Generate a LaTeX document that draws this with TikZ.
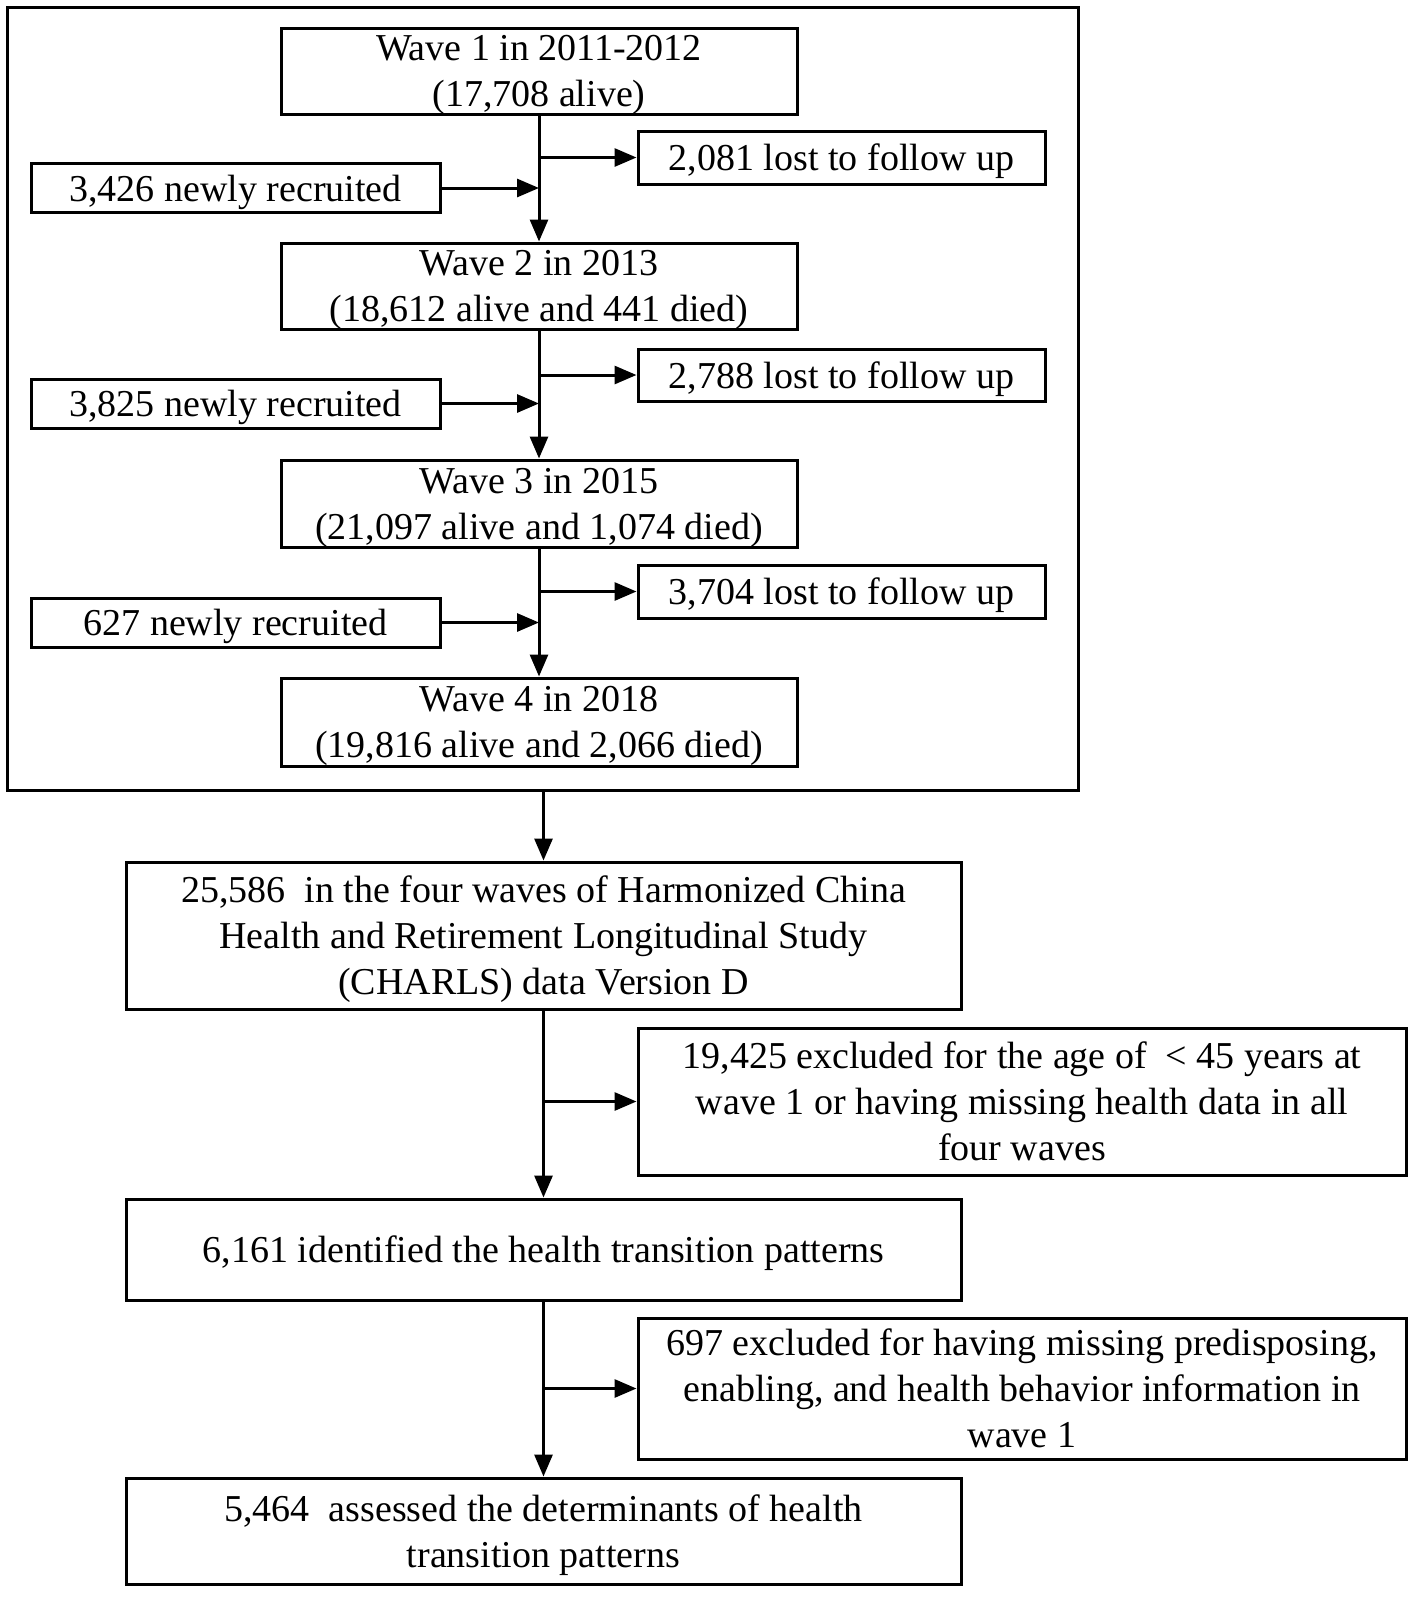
\documentclass[tikz,border=0pt]{standalone}
\usepackage{fontspec}
\setmainfont{Liberation Serif}
\usetikzlibrary{arrows.meta}
\begin{document}
\begin{tikzpicture}[x=0.5pt,y=-0.5pt,
    box/.style={draw,line width=1.5pt,align=center,inner sep=0pt,text depth=0pt,font=\fontsize{19}{23}\selectfont},
    arr/.style={line width=1.5pt,-{Triangle[length=11pt,width=9pt]}}]
      \useasboundingbox (0,0) rectangle (1418,1602);
      \draw
        (542.5,398.5) node[draw,line width=1.5pt,minimum width=535.5pt,minimum height=391.5pt] (frame){}
        (539,71) node[box,minimum width=258pt,minimum height=43pt] (w1){Wave 1 in 2011-2012\\(17,708 alive)}
        (539,286) node[box,minimum width=258pt,minimum height=43pt] (w2){Wave 2 in 2013\\(18,612 alive and 441 died)}
        (539,503.5) node[box,minimum width=258pt,minimum height=43.5pt] (w3){Wave 3 in 2015\\(21,097 alive and 1,074 died)}
        (539,722) node[box,minimum width=258pt,minimum height=44pt] (w4){Wave 4 in 2018\\(19,816 alive and 2,066 died)}
        (841.5,157.5) node[box,minimum width=203.5pt,minimum height=26.5pt] (l1){2,081 lost to follow up}
        (841.5,375) node[box,minimum width=203.5pt,minimum height=26pt] (l2){2,788 lost to follow up}
        (841.5,591.5) node[box,minimum width=203.5pt,minimum height=26.5pt] (l3){3,704 lost to follow up}
        (235.5,188) node[box,minimum width=204.5pt,minimum height=24.5pt] (n1){3,426 newly recruited}
        (235.5,403.5) node[box,minimum width=204.5pt,minimum height=24.5pt] (n2){3,825 newly recruited}
        (235.5,622.5) node[box,minimum width=204.5pt,minimum height=24.5pt] (n3){627 newly recruited}
        (543.5,935.5) node[box,minimum width=417.5pt,minimum height=73.5pt] (c1){25,586\ \ in the four waves of Harmonized China\\Health and Retirement Longitudinal Study\\(CHARLS) data Version D}
        (1022,1101.5) node[box,minimum width=384pt,minimum height=73.5pt] (e1){19,425 excluded for the age of\ \ < 45 years at\\wave 1 or having missing health data in all\\four waves}
        (543.5,1249.5) node[box,minimum width=417.5pt,minimum height=50.5pt] (c2){6,161 identified the health transition patterns}
        (1022,1388.5) node[box,minimum width=384pt,minimum height=70.5pt] (e2){697 excluded for having missing predisposing,\\enabling, and health behavior information in\\wave 1}
        (543.5,1531) node[box,minimum width=417.5pt,minimum height=53pt] (c3){5,464\ \ assessed the determinants of health\\transition patterns};
      \begin{scope}[arr]
        \draw (w1) to (w2);
        \draw (w2) to (w3);
        \draw (w3) to (w4);
        \draw (w1.south |- l1) to (l1);
        \draw (w2.south |- l2) to (l2);
        \draw (w3.south |- l3) to (l3);
        \draw (n1) to (w1.south |- n1);
        \draw (n2) to (w2.south |- n2);
        \draw (n3) to (w3.south |- n3);
        \draw (c1.north |- frame.south) to (c1);
        \draw (c1) to (c2);
        \draw (c2) to (c3);
        \draw (c1.south |- e1) to (e1);
        \draw (c2.south |- e2) to (e2);
      \end{scope}
    \end{tikzpicture}
\end{document}
